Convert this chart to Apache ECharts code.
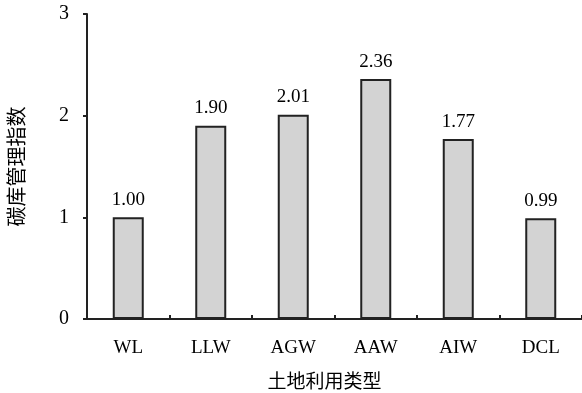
<!DOCTYPE html>
<html>
<head>
<meta charset="utf-8">
<script src="https://cdn.jsdelivr.net/npm/echarts@6/dist/echarts.min.js"></script>
<style>
  html, body { margin: 0; padding: 0; background: #fff; }
  #chart { width: 582px; height: 393px; }
</style>
</head>
<body>
<div id="chart"></div>
<script>
// 土地利用类型
var categories = ['WL', 'LLW', 'AGW', 'AAW', 'AIW', 'DCL']
// 碳库管理指数
var values = [1.00, 1.90, 2.01, 2.36, 1.77, 0.99]
var yTicks = [0, 1, 2, 3]

var serif = '"Liberation Serif", "DejaVu Serif", serif'
var cjk = '"Noto Sans CJK SC", sans-serif'

var chart = echarts.init(document.getElementById('chart'))
chart.setOption({
  animation: false,
  grid: {
    left: 87,
    right: 0,
    top: 14,
    bottom: 74,
    outerBoundsMode: 'none',
    containLabel: false
  },
  xAxis: {
    type: 'category',
    data: categories,
    name: '土地利用类型',
    nameLocation: 'middle',
    nameGap: 52,
    nameTextStyle: { fontFamily: cjk, fontSize: 19, color: '#000', padding: [0, 20, 0, 0] },
    axisLine: { lineStyle: { color: '#222', width: 2 } },
    axisTick: { show: true, inside: true, length: 4, lineStyle: { color: '#222', width: 2 } },
    axisLabel: { fontFamily: serif, fontSize: 19, color: '#000', margin: 20 }
  },
  yAxis: {
    type: 'value',
    min: yTicks[0],
    max: yTicks[yTicks.length - 1],
    interval: 1,
    name: '碳库管理指数',
    nameLocation: 'middle',
    nameGap: 61,
    nameRotate: 90,
    nameTextStyle: { fontFamily: cjk, fontSize: 20, color: '#000' },
    splitLine: { show: false },
    axisLine: { show: true, lineStyle: { color: '#222', width: 2 } },
    axisTick: { show: true, length: 4, lineStyle: { color: '#222', width: 2 } },
    axisLabel: { fontFamily: serif, fontSize: 20, color: '#000', margin: 18 }
  },
  series: [{
    type: 'bar',
    data: values,
    barWidth: 31,
    itemStyle: { color: '#d3d3d3', borderColor: '#222', borderWidth: 2 },
    label: {
      show: true,
      position: 'top',
      distance: 8,
      formatter: function (p) { return p.value.toFixed(2) },
      fontFamily: serif,
      fontSize: 19,
      color: '#000'
    }
  }]
})
</script>
</body>
</html>
